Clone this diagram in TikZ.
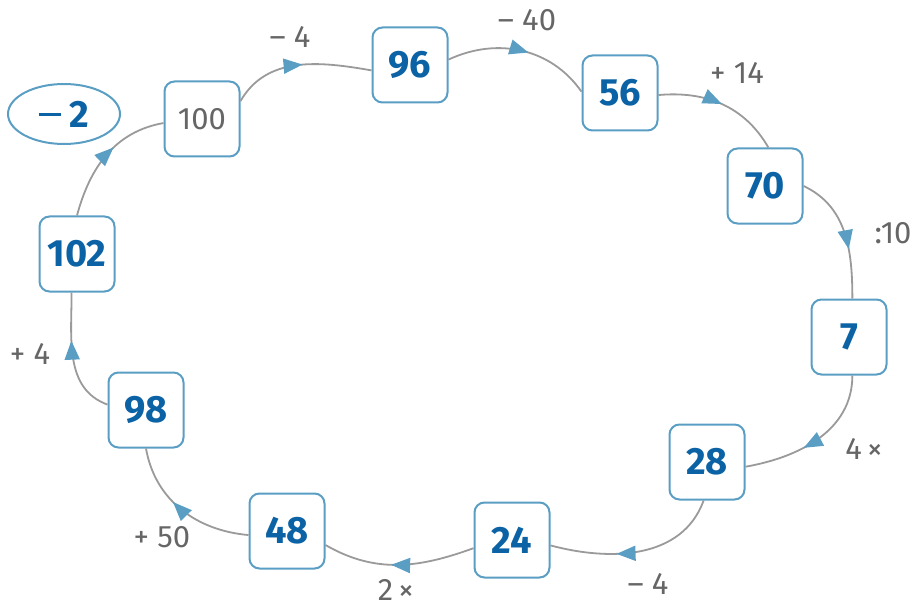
\documentclass[tikz,border=0pt]{standalone}
\usepackage{fontspec}
\setmainfont{Fira Sans}
\usetikzlibrary{arrows.meta,decorations.markings,shapes.geometric}
\definecolor{boxline}{HTML}{5A9EC4}
\definecolor{numblue}{HTML}{0B62A4}
\definecolor{linegray}{HTML}{9A9A9A}
\definecolor{labgray}{HTML}{666666}
\tikzset{
 numbox/.style={draw=boxline, line width=2pt, rounded corners=10pt, minimum width=75pt, minimum height=75pt, fill=white, font=\fontsize{38}{40}\selectfont\bfseries, text=numblue, inner sep=0pt},
 graybox/.style={numbox, font=\fontsize{31}{32}\selectfont, text=labgray},
 conn/.style={draw=linegray, line width=1.8pt, postaction={decorate}, decoration={markings, mark=at position #1 with {\arrow{Triangle[length=19pt,width=15pt,color=boxline]}}}},
 oplabel/.style={font=\fontsize{31}{32}\selectfont, text=labgray, inner sep=0pt},
 resellipse/.style={draw=boxline, line width=2pt, ellipse, minimum width=112pt, minimum height=60pt, inner sep=0pt, text=numblue, font=\fontsize{38}{40}\selectfont\bfseries}
}
\begin{document}
\begin{tikzpicture}[x=1pt,y=1pt]
\useasboundingbox (0,0) rectangle (919,-607);
\node[graybox] (n100) at (202,-119) {100};
\node[numbox] (n96) at (410,-65) {96};
\node[numbox] (n56) at (620,-93) {56};
\node[numbox] (n70) at (765,-186) {70};
\node[numbox] (n7) at (849,-337) {7};
\node[numbox] (n28) at (707,-462) {28};
\node[numbox] (n24) at (512,-540) {24};
\node[numbox] (n48) at (287,-531) {48};
\node[numbox] (n98) at (146,-410) {98};
\node[numbox] (n102) at (77,-254) {102};
\node[resellipse] (res) at (64,-114) {\rule[11pt]{22pt}{3.5pt}\hspace{9pt}2};

\draw[conn=0.52] (n100.25) to[out=60,in=170] (n96.188);
\draw[conn=0.55] (n96.8) to[out=25,in=125] (n56.178);
\draw[conn=0.5] (n56.-3) to[out=5,in=120] (n70.85);
\draw[conn=0.62] (n70.0) to[out=-25,in=90] (n7.85);
\draw[conn=0.6] (n7.-85) to[out=-90,in=10] (n28.-7);
\draw[conn=0.62] (n28.-95) to[out=-110,in=-15] (n24.-8);
\draw[conn=0.55] (n24.-168) to[out=-160,in=-30] (n48.-20);
\draw[conn=0.58] (n48.-174) to[out=175,in=-80] (n98.-90);
\draw[conn=0.62] (n98.172) to[out=160,in=-90] (n102.-98);
\draw[conn=0.58] (n102.north) to[out=75,in=190] (n100.186);

\node[oplabel] (l1) at (290,-37) {– 4};
\node[oplabel] (l2) at (527,-20) {– 40};
\node[oplabel] (l3) at (737,-73) {+ 14};
\node[oplabel] (l4) at (893,-233) {:10};
\node[oplabel] (l5) at (864,-449) {4\,×};
\node[oplabel] (l6) at (648,-584) {– 4};
\node[oplabel] (l7) at (396,-590) {2\,×};
\node[oplabel] (l8) at (162,-537) {+ 50};
\node[oplabel] (l9) at (30,-354) {+ 4};
\end{tikzpicture}
\end{document}
